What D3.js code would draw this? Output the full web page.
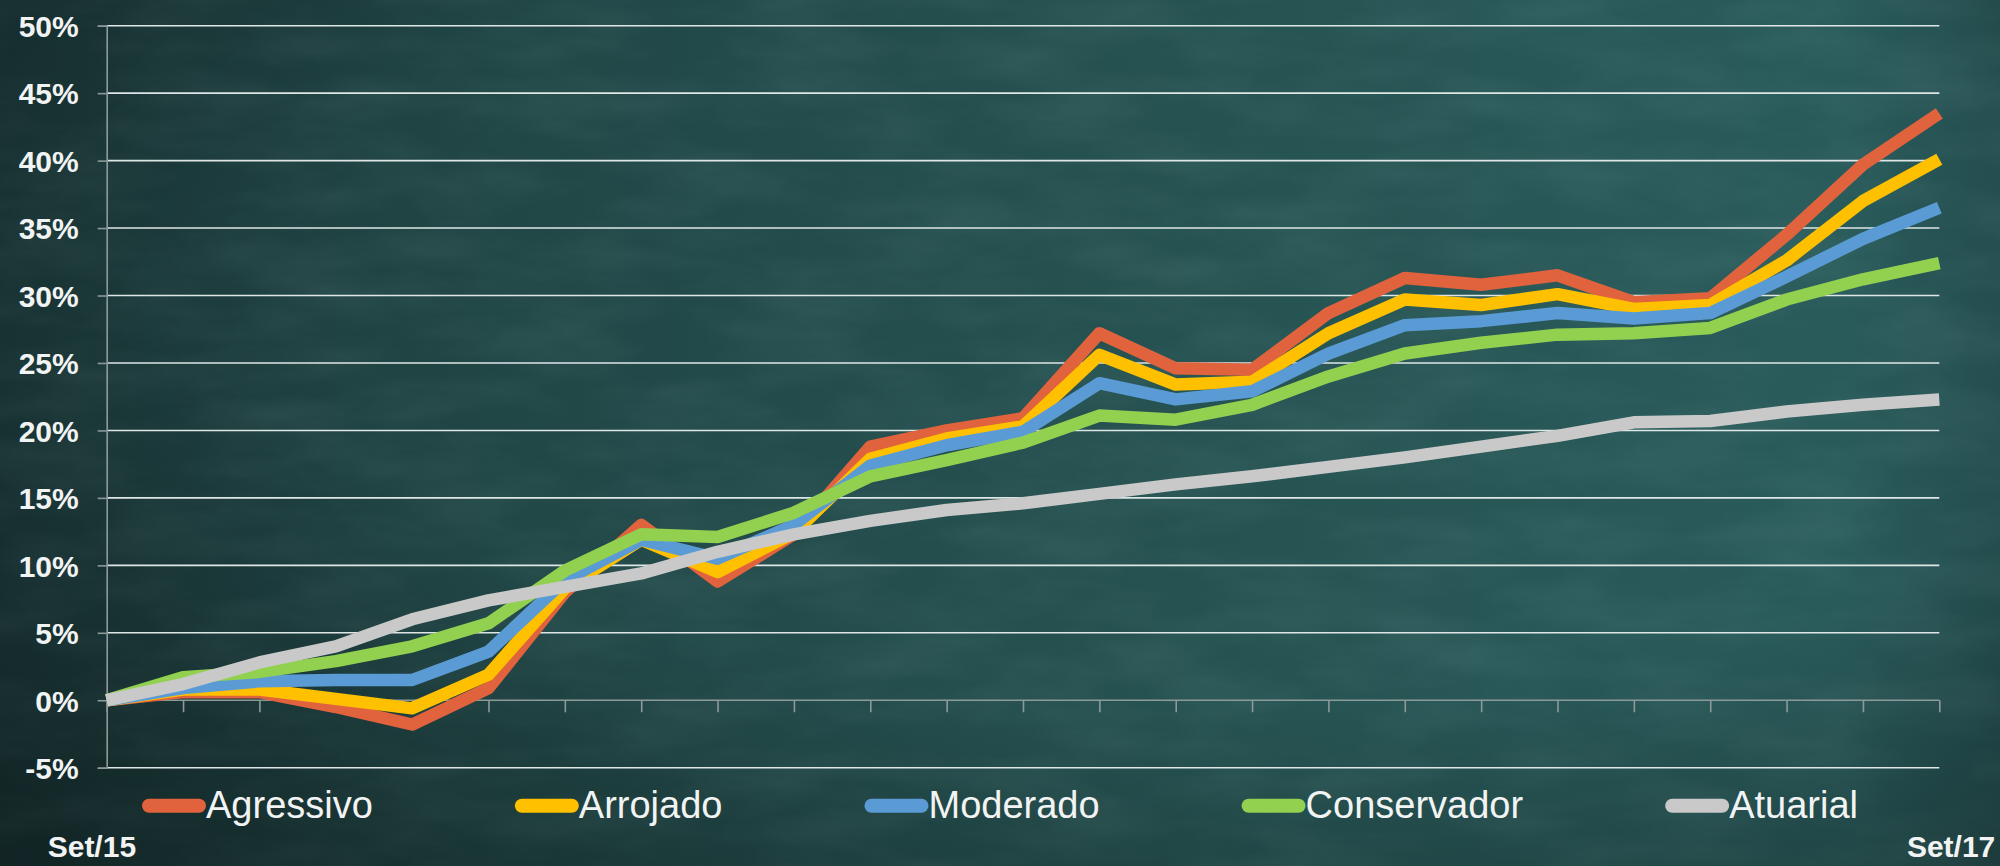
<!DOCTYPE html>
<html>
<head>
<meta charset="utf-8">
<script src="https://cdn.jsdelivr.net/npm/d3@7"></script>
<style>
  html, body { margin: 0; padding: 0; background: #234a4a; overflow: hidden; }
  svg { display: block; }
</style>
</head>
<body>
<svg id="chart" width="2000" height="866"></svg>
<script>
// ---------- data ----------
const categories = ["Set/15","Out/15","Nov/15","Dez/15","Jan/16","Fev/16","Mar/16","Abr/16","Mai/16","Jun/16","Jul/16","Ago/16","Set/16","Out/16","Nov/16","Dez/16","Jan/17","Fev/17","Mar/17","Abr/17","Mai/17","Jun/17","Jul/17","Ago/17","Set/17"];
const seriesNames = ["Agressivo","Arrojado","Moderado","Conservador","Atuarial"];
const agressivo   = [0, 0.6, 0.6, -0.5, -1.8, 0.9, 8.0, 13.0, 8.8, 12.3, 18.8, 20.0, 20.9, 27.2, 24.6, 24.5, 28.7, 31.3, 30.8, 31.5, 29.5, 29.8, 34.5, 39.7, 43.5];
const arrojado    = [0, 0.8, 0.8, 0.1, -0.6, 1.9, 8.3, 11.9, 9.5, 12.4, 17.9, 19.4, 20.3, 25.6, 23.4, 23.6, 27.2, 29.7, 29.3, 30.1, 29.0, 29.3, 32.6, 37.0, 40.1];
const moderado    = [0, 0.9, 1.4, 1.5, 1.5, 3.6, 8.9, 11.9, 10.5, 13.0, 17.4, 18.9, 19.9, 23.5, 22.3, 22.9, 25.7, 27.8, 28.1, 28.7, 28.3, 28.7, 31.4, 34.2, 36.5];
const conservador = [0, 1.7, 2.1, 2.9, 4.0, 5.7, 9.6, 12.3, 12.1, 13.9, 16.6, 17.8, 19.1, 21.1, 20.8, 21.9, 24.0, 25.7, 26.5, 27.1, 27.2, 27.6, 29.7, 31.2, 32.4];
const atuarial    = [0, 1.2, 2.8, 4.0, 6.0, 7.4, 8.4, 9.4, 11.0, 12.3, 13.3, 14.1, 14.6, 15.3, 16.0, 16.6, 17.3, 18.0, 18.8, 19.6, 20.6, 20.7, 21.4, 21.9, 22.3];
const yTicks = [-5, 0, 5, 10, 15, 20, 25, 30, 35, 40, 45, 50];
const xEndLabels = ["Set/15", "Set/17"];
const seriesColors = ["#E0633D", "#FFC000", "#5B9BD5", "#92D050", "#C9C9C9"];

const seriesValues = [agressivo, arrojado, moderado, conservador, atuarial];

// ---------- layout ----------
const W = 2000, H = 866;
const plot = { left: 106.7, right: 1939.3, top: 25.7, bottom: 767.7 };

const svg = d3.select("#chart");
const defs = svg.append("defs");

// background gradient (chalkboard)
const bg = defs.append("linearGradient").attr("id", "bgGrad")
  .attr("x1", "0").attr("y1", "0").attr("x2", "1").attr("y2", "0");
bg.append("stop").attr("offset", "0%").attr("stop-color", "#1b3839");
bg.append("stop").attr("offset", "25%").attr("stop-color", "#214646");
bg.append("stop").attr("offset", "60%").attr("stop-color", "#265352");
bg.append("stop").attr("offset", "92%").attr("stop-color", "#2a5b5b");
bg.append("stop").attr("offset", "100%").attr("stop-color", "#244e4f");

const vg = defs.append("radialGradient").attr("id", "vignette")
  .attr("cx", "0.6").attr("cy", "0.35").attr("r", "0.85");
vg.append("stop").attr("offset", "55%").attr("stop-color", "#000").attr("stop-opacity", 0);
vg.append("stop").attr("offset", "100%").attr("stop-color", "#000").attr("stop-opacity", 0.35);

const noise = defs.append("filter").attr("id", "noise")
  .attr("x", 0).attr("y", 0).attr("width", "100%").attr("height", "100%");
noise.append("feTurbulence").attr("type", "fractalNoise")
  .attr("baseFrequency", "0.008 0.025").attr("numOctaves", 4).attr("seed", 11).attr("result", "t");
noise.append("feColorMatrix").attr("type", "matrix")
  .attr("values", "0 0 0 0 0.5  0 0 0 0 0.72  0 0 0 0 0.72  0 0 0 0.9 -0.3");

svg.append("rect").attr("width", W).attr("height", H).attr("fill", "url(#bgGrad)");
svg.append("rect").attr("width", W).attr("height", H).attr("filter", "url(#noise)").attr("opacity", 0.14);
svg.append("rect").attr("width", W).attr("height", H).attr("fill", "url(#vignette)");

// ---------- scales ----------
const x = d3.scalePoint().domain(categories).range([plot.left, plot.right]);
const y = d3.scaleLinear().domain([-5, 50]).range([plot.bottom, plot.top]);

// ---------- gridlines ----------
const g = svg.append("g");
g.append("g").selectAll("line").data(yTicks.filter(t => t !== 0)).join("line")
  .attr("x1", plot.left).attr("x2", plot.right)
  .attr("y1", d => y(d)).attr("y2", d => y(d))
  .attr("stroke", "#dfe6e6").attr("stroke-width", 1.6);

// y axis
const yAxis = d3.axisLeft(y).tickValues(yTicks).tickSize(9).tickFormat(d => d + "%");
const ya = g.append("g").attr("transform", `translate(${plot.left},0)`).call(yAxis);
ya.select(".domain").attr("stroke", "#8d9a9a").attr("stroke-width", 1.6);
ya.selectAll(".tick line").attr("stroke", "#8d9a9a").attr("stroke-width", 1.6);
ya.selectAll(".tick text")
  .attr("x", -28)
  .attr("dy", "0.36em")
  .attr("fill", "#f2f4f4")
  .style("font-family", "'Liberation Sans', Arial, sans-serif")
  .style("font-weight", "bold")
  .style("font-size", "30px");

// x axis at 0%
const xAxis = d3.axisBottom(x).tickSize(12).tickFormat("");
const xa = g.append("g").attr("transform", `translate(0,${y(0)})`).call(xAxis);
xa.select(".domain").attr("stroke", "#8d9a9a").attr("stroke-width", 1.6).attr("d", `M${plot.left},0H${plot.right}`);
xa.selectAll(".tick line").attr("stroke", "#8d9a9a").attr("stroke-width", 1.6);

// ---------- lines ----------
const line = d3.line().x((d, i) => x(categories[i])).y(d => y(d));
svg.append("g").selectAll("path").data(seriesValues).join("path")
  .attr("d", d => line(d))
  .attr("fill", "none")
  .attr("stroke", (d, i) => seriesColors[i])
  .attr("stroke-width", 12.5)
  .attr("stroke-linejoin", "round")
  .attr("stroke-linecap", "butt");

// ---------- end labels ----------
const labStyle = s => s.attr("fill", "#f2f4f4")
  .style("font-family", "'Liberation Sans', Arial, sans-serif")
  .style("font-weight", "bold").style("font-size", "30px");
svg.append("text").attr("x", x(categories[0]) - 59).attr("y", 857).attr("text-anchor", "start")
  .text(xEndLabels[0]).call(labStyle);
svg.append("text").attr("x", x(categories[categories.length - 1]) + 56).attr("y", 857).attr("text-anchor", "end")
  .text(xEndLabels[1]).call(labStyle);

// ---------- legend ----------
const lineLen = 50, capR = 7, gap = 142, legY = 805.7;
const leg = svg.append("g");
const items = leg.selectAll("g").data(seriesNames).join("g");
items.append("line")
  .attr("x1", capR).attr("x2", capR + lineLen)
  .attr("y1", legY).attr("y2", legY)
  .attr("stroke", (d, i) => seriesColors[i])
  .attr("stroke-width", 14).attr("stroke-linecap", "round");
items.append("text")
  .attr("x", capR * 2 + lineLen).attr("y", 818)
  .attr("fill", "#f2f4f4")
  .style("font-family", "'Liberation Sans', Arial, sans-serif")
  .style("font-size", "38px")
  .text(d => d);
const widths = [];
items.each(function () { widths.push(capR * 2 + lineLen + d3.select(this).select("text").node().getComputedTextLength()); });
const total = d3.sum(widths) + gap * (widths.length - 1);
let cx = W / 2 - total / 2;
items.attr("transform", (d, i) => { const t = `translate(${cx},0)`; cx += widths[i] + gap; return t; });
</script>
</body>
</html>
